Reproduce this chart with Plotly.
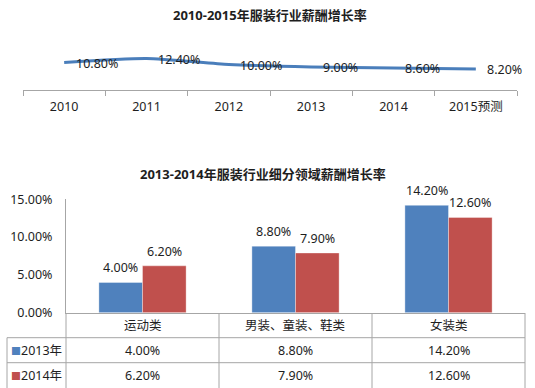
import plotly.graph_objects as go

# ---- data ----
years = ["2010", "2011", "2012", "2013", "2014", "2015预测"]
growth = [10.8, 12.4, 10.0, 9.0, 8.6, 8.2]

segments = ["运动类", "男装、童装、鞋类", "女装类"]
series_names = ["2013年", "2014年"]
v2013 = [4.0, 8.8, 14.2]
v2014 = [6.2, 7.9, 12.6]

y2_ticks = [0, 5, 10, 15]

title1 = "2010-2015年服装行业薪酬增长率"
title2 = "2013-2014年服装行业细分领域薪酬增长率"

# ---- style ----
W, H = 535, 388
FONT = "Noto Sans, Noto Sans CJK SC, sans-serif"
TXT = "#1e1e1e"
BLUE = "#4F81BD"
RED = "#C0504D"
LINE_BLUE = "#4A7EBB"
GRID = "#A6A6A6"
FS = 12.5
BARGAP = 0.43


def px(x):
    return x / W


def py(y):
    return 1 - y / H


fig = go.Figure()

# top line chart
fig.add_trace(go.Scatter(
    x=years, y=growth, mode="lines", xaxis="x", yaxis="y",
    line=dict(color=LINE_BLUE, width=3, shape="spline", smoothing=0.6),
    hoverinfo="skip", showlegend=False, cliponaxis=False,
))

# bottom bar chart
fig.add_trace(go.Bar(
    x=segments, y=v2013, name=series_names[0], xaxis="x2", yaxis="y2",
    marker=dict(color=BLUE, line=dict(color="rgba(255,255,255,0.35)", width=1)),
    showlegend=False,
))
fig.add_trace(go.Bar(
    x=segments, y=v2014, name=series_names[1], xaxis="x2", yaxis="y2",
    marker=dict(color=RED, line=dict(color="rgba(255,255,255,0.35)", width=1)),
    showlegend=False,
))

annotations = []

# titles
annotations.append(dict(text=f"<b>{title1}</b>", x=px(270), y=py(15), xref="paper", yref="paper",
                        showarrow=False, font=dict(size=13, color=TXT), xanchor="center", yanchor="middle"))
annotations.append(dict(text=f"<b>{title2}</b>", x=px(263), y=py(174), xref="paper", yref="paper",
                        showarrow=False, font=dict(size=13, color=TXT), xanchor="center", yanchor="middle"))

# line data labels (category index positions)
for i, v in enumerate(growth):
    annotations.append(dict(text=f"{v:.2f}%", x=i, y=v, xref="x", yref="y", showarrow=False,
                            xanchor="left", yanchor="middle", xshift=9.5, yshift=-1,
                            font=dict(size=FS, color=TXT)))

# bar data labels
off = (1 - BARGAP) / 4
for i, (a, b) in enumerate(zip(v2013, v2014)):
    for val, d in ((a, -off), (b, off)):
        annotations.append(dict(text=f"{val:.2f}%", x=i + d, y=val, xref="x2", yref="y2",
                                showarrow=False, xanchor="center", yanchor="middle", yshift=14.5,
                                font=dict(size=FS, color=TXT)))

# data table
row_head = (313 + 337.7) / 2
row_centers = [(337.7 + 362.7) / 2, (362.7 + 388) / 2]
for i, seg in enumerate(segments):
    annotations.append(dict(text=seg, x=i, y=py(row_head), xref="x2", yref="paper", showarrow=False,
                            xanchor="center", yanchor="middle", font=dict(size=FS, color=TXT)))
for r, (vals, col, nm) in enumerate(zip([v2013, v2014], [BLUE, RED], series_names)):
    for i, val in enumerate(vals):
        annotations.append(dict(text=f"{val:.2f}%", x=i, y=py(row_centers[r]), xref="x2", yref="paper",
                                showarrow=False, xanchor="center", yanchor="middle",
                                font=dict(size=FS, color=TXT)))
    annotations.append(dict(text=f'<span style="color:{col};font-size:10px">■</span>{nm}',
                            x=px(36.5), y=py(row_centers[r]), xref="paper", yref="paper",
                            showarrow=False, xanchor="center", yanchor="middle",
                            font=dict(size=FS, color=TXT)))

shapes = []
ln = dict(color=GRID, width=1)
for yy in (337.7, 362.7):
    shapes.append(dict(type="line", xref="paper", yref="paper", x0=px(7), x1=px(525),
                       y0=py(yy), y1=py(yy), line=ln))
for k in range(len(segments) + 1):
    shapes.append(dict(type="line", xref="x2 domain", yref="paper", x0=k / len(segments),
                       x1=k / len(segments), y0=py(313), y1=0, line=ln))
shapes.append(dict(type="line", xref="paper", yref="paper", x0=px(7), x1=px(7),
                   y0=py(337.7), y1=0, line=ln))

fig.update_layout(
    width=W, height=H,
    margin=dict(l=0, r=0, t=0, b=0, autoexpand=False),
    paper_bgcolor="white", plot_bgcolor="white",
    font=dict(family=FONT, size=FS, color=TXT),
    bargap=BARGAP, bargroupgap=0, barmode="group",
    xaxis=dict(type="category", domain=[px(23), px(517)], range=[-0.5, len(years) - 0.5],
               anchor="y", showline=True, linecolor=GRID, automargin=False,
               linewidth=1, ticks="outside", ticklen=5, tickcolor=GRID, tickson="boundaries",
               ticklabelstandoff=5,
               showgrid=False, zeroline=False, tickfont=dict(size=FS, color=TXT), tickangle=0),
    yaxis=dict(domain=[py(89.5), py(39.5)], range=[0, 20], visible=False, anchor="x",
               automargin=False),
    xaxis2=dict(type="category", domain=[px(66), px(525)], range=[-0.5, len(segments) - 0.5],
                anchor="y2", showline=True, linecolor=GRID, automargin=False,
                linewidth=1, showticklabels=False, ticks="", showgrid=False, zeroline=False),
    yaxis2=dict(domain=[py(312.7), py(199.3)], range=[0, 15], anchor="x2", showline=True,
                linecolor=GRID, linewidth=1, ticks="", tickmode="array", tickvals=y2_ticks,
                ticktext=[f"{t:.2f}%" for t in y2_ticks], showgrid=False, zeroline=False,
                ticklabelstandoff=10, tickfont=dict(size=FS, color=TXT), automargin=False),
    annotations=annotations,
    shapes=shapes,
)

fig.write_html(
    "out.html",
    config={"displayModeBar": False},
    post_script="document.body.style.margin='0';document.body.style.overflow='hidden';",
)
